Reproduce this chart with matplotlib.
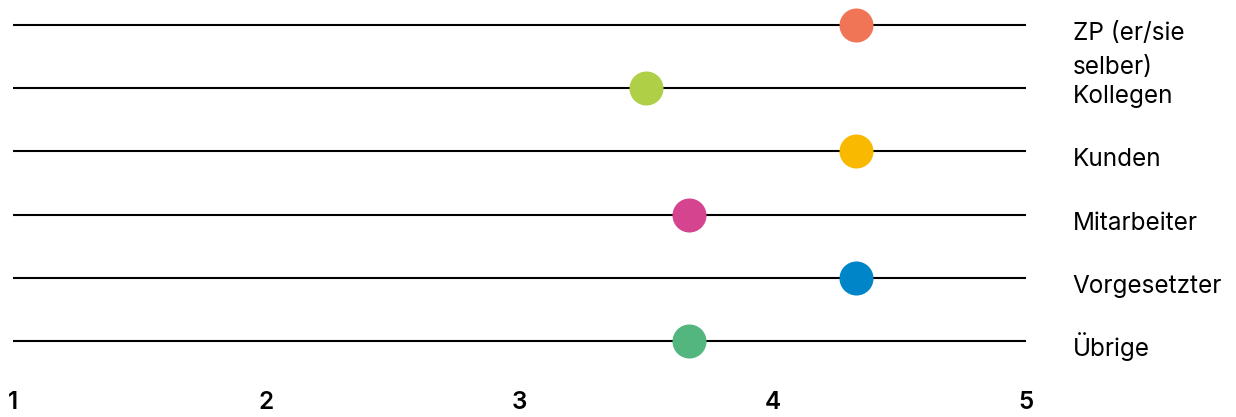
import matplotlib.pyplot as plt

plt.rcParams['font.family'] = ['Inter', 'DejaVu Sans']

groups = ["ZP (er/sie\nselber)", "Kollegen", "Kunden", "Mitarbeiter", "Vorgesetzter", "Übrige"]
scores = [4.33, 3.5, 4.33, 3.67, 4.33, 3.67]
colors = ["#EF7556", "#AECF46", "#F9B900", "#D4448F", "#0085C8", "#52B67E"]
ticks = [1, 2, 3, 4, 5]

fig = plt.figure(figsize=(12.36, 4.17), dpi=100)
# axes spans from first to last line, 1 to 5
ax = fig.add_axes([13 / 1236, 76 / 417, 1013 / 1236, 316 / 417])

ypos = list(range(len(groups)))
for y, label, val, c in zip(ypos, groups, scores, colors):
    ax.plot([1, 5], [y, y], color='black', lw=1.5, solid_capstyle='butt', zorder=1, clip_on=False)
    ax.scatter(val, y, s=600, color=c, zorder=3, clip_on=False, linewidths=0)
    # first line sits just below the rule, further lines stack downwards
    for i, part in enumerate(label.split('\n')):
        ax.annotate(part, xy=(5, y), xytext=(33.5, -10.8 - i * 24.5), textcoords='offset points',
                    ha='left', va='baseline', fontsize=17.5, annotation_clip=False)

ax.set_xlim(1, 5)
ax.set_ylim(len(groups) - 1, 0)
ax.set_xticks(ticks)
ax.set_xticklabels([str(t) for t in ticks], fontsize=17.5, fontweight='semibold')
ax.tick_params(axis='x', length=0, pad=36)
ax.set_yticks([])
for s in ax.spines.values():
    s.set_visible(False)

fig.savefig('out.png', dpi=100)
